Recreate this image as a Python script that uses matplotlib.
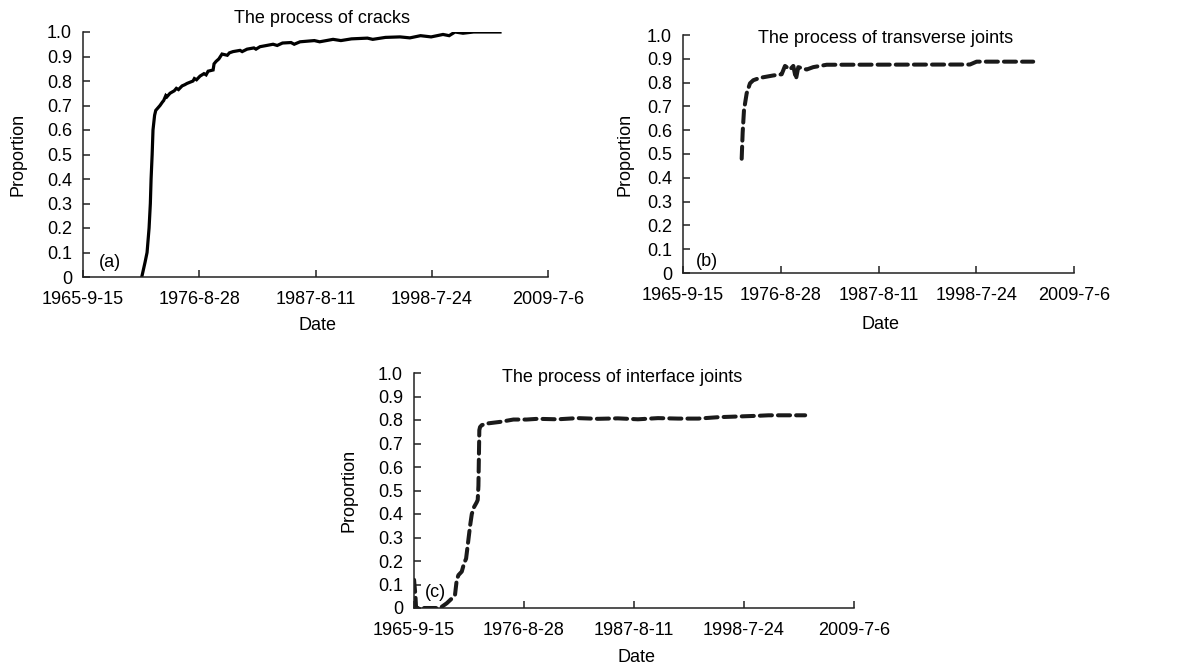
import matplotlib
matplotlib.use("Agg")
import matplotlib.pyplot as plt
import pandas as pd

plt.rcParams['font.family'] = ['Liberation Sans', 'DejaVu Sans']

# ---- data (x in decimal years) ----
a_year = [1971.24, 1971.55, 1971.74, 1971.93, 1972.05, 1972.12, 1972.22, 1972.30, 1972.45,
          1972.56, 1972.96, 1973.2, 1973.3, 1973.5, 1973.6, 1973.9, 1974.1, 1974.3, 1974.5,
          1974.7, 1975.04, 1975.3, 1975.5, 1976.07, 1976.2, 1976.4, 1976.73, 1977.1, 1977.3,
          1977.49, 1977.96, 1978.05, 1978.24, 1978.5, 1978.8, 1979.3, 1979.5, 1979.84, 1980.5,
          1980.7, 1981.16, 1981.8, 1982.0, 1982.38, 1983.0, 1983.61, 1984.0, 1984.5, 1985.3,
          1985.6, 1986.15, 1987.5, 1988.0, 1989.26, 1990.0, 1991.0, 1992.5, 1993.0, 1994.2,
          1995.57, 1996.5, 1997.5, 1998.5, 1999.62, 2000.2, 2000.75, 2001.5, 2002.5, 2004.99]
a_val = [0.0, 0.06, 0.10, 0.20, 0.30, 0.40, 0.50, 0.60, 0.66,
         0.68, 0.70, 0.715, 0.72, 0.74, 0.735, 0.75, 0.755, 0.76, 0.77,
         0.765, 0.78, 0.785, 0.79, 0.80, 0.81, 0.805, 0.82, 0.83, 0.825,
         0.84, 0.845, 0.87, 0.88, 0.89, 0.91, 0.905, 0.915, 0.92, 0.925,
         0.92, 0.93, 0.935, 0.93, 0.94, 0.945, 0.95, 0.945, 0.955, 0.957,
         0.95, 0.96, 0.965, 0.96, 0.97, 0.965, 0.972, 0.975, 0.97, 0.978,
         0.98, 0.976, 0.985, 0.98, 0.99, 0.985, 1.0, 0.995, 1.0, 1.0]

b_year = [1972.28, 1972.39, 1972.54, 1972.84, 1973.21, 1973.58, 1974.33, 1975.82, 1976.76,
          1977.13, 1977.69, 1978.06, 1978.36, 1978.62, 1979.56, 1980.3, 1981.8, 1997.85,
          1998.6, 2004.94]
b_val = [0.48, 0.59, 0.685, 0.755, 0.797, 0.81, 0.82, 0.83, 0.835,
         0.87, 0.855, 0.87, 0.815, 0.865, 0.855, 0.865, 0.875, 0.876,
         0.888, 0.888]

c_year = [1965.71, 1965.85, 1965.91, 1966.5, 1967.5, 1968.30, 1968.96, 1969.46, 1969.79,
          1969.96, 1970.13, 1970.46, 1970.69, 1970.89, 1971.12, 1971.29, 1971.46, 1971.69,
          1971.95, 1972.05, 1972.12, 1972.21, 1972.28, 1972.45, 1972.95, 1974.28, 1975.6,
          1976.93, 1978.0, 1980.0, 1982.0, 1984.0, 1986.0, 1988.0, 1990.0, 1992.0, 1994.0,
          1996.0, 1998.0, 2000.0, 2001.0, 2004.65]
c_val = [0.12, 0.05, 0.0, 0.0, 0.0, 0.0, 0.02, 0.04, 0.057,
         0.12, 0.14, 0.155, 0.19, 0.21, 0.29, 0.35, 0.40, 0.43,
         0.45, 0.46, 0.52, 0.757, 0.77, 0.778, 0.785, 0.792, 0.802,
         0.802, 0.805, 0.803, 0.808, 0.805, 0.807, 0.803, 0.808, 0.806, 0.806,
         0.812, 0.815, 0.818, 0.82, 0.82]

x_tick_labels = ["1965-9-15", "1976-8-28", "1987-8-11", "1998-7-24", "2009-7-6"]
y_ticks = [0, 0.1, 0.2, 0.3, 0.4, 0.5, 0.6, 0.7, 0.8, 0.9, 1.0]
y_tick_labels = ["0", "0.1", "0.2", "0.3", "0.4", "0.5", "0.6", "0.7", "0.8", "0.9", "1.0"]

titles = ["The process of cracks", "The process of transverse joints",
          "The process of interface joints"]
panel_tags = ["(a)", "(b)", "(c)"]


def to_dates(years):
    out = []
    for y in years:
        yi = int(y)
        out.append(pd.Timestamp(year=yi, month=1, day=1) + pd.Timedelta(days=(y - yi) * 365.25))
    return out


x_ticks = pd.to_datetime(x_tick_labels, format="%Y-%m-%d")

fig = plt.figure(figsize=(11.84, 6.66), dpi=100)
W, H = 1184, 666
# pixel boxes: left, right, top(y=1), bottom(y=0)
boxes = [(83, 548, 32, 277), (683, 1074, 35, 273), (414, 854, 373, 608)]
title_pos = [(0.514, 1.057), (0.517, 0.987), (0.473, 0.979)]
tag_pos = [(0.058, 0.061), (0.061, 0.05), (0.048, 0.064)]
xlabel_y = [-0.196, -0.218, -0.209]
ylabel_x = [-0.14, -0.148, -0.148]
series = [(a_year, a_val, '-'), (b_year, b_val, '--'), (c_year, c_val, '--')]

FS = 13
for i, (l, r, t, b) in enumerate(boxes):
    ax = fig.add_axes([l / W, (H - b) / H, (r - l) / W, (b - t) / H])
    yrs, vals, ls = series[i]
    if ls == '-':
        ax.plot(to_dates(yrs), vals, color='black', lw=2.3, solid_joinstyle='miter')
    else:
        ax.plot(to_dates(yrs), vals, color='#1a1a1a', lw=2.9, linestyle=(0, (3.0, 1.5)),
                dash_capstyle='round')
    ax.set_xlim(x_ticks[0], x_ticks[-1])
    ax.set_ylim(0, 1.0)
    ax.set_xticks(x_ticks)
    ax.set_xticklabels(x_tick_labels, fontsize=FS)
    ax.set_yticks(y_ticks)
    ax.set_yticklabels(y_tick_labels, fontsize=FS)
    ax.tick_params(axis='both', direction='in', length=5, width=1.1, color='#222222')
    ax.tick_params(axis='x', pad=10)
    ax.tick_params(axis='y', pad=8)
    ax.spines['top'].set_visible(False)
    ax.spines['right'].set_visible(False)
    for s in ('left', 'bottom'):
        ax.spines[s].set_linewidth(1.1)
        ax.spines[s].set_color('#222222')
    ax.set_ylabel("Proportion", fontsize=FS)
    ax.yaxis.label.set_va('center')
    ax.yaxis.set_label_coords(ylabel_x[i], 0.5)
    ax.set_xlabel("Date", fontsize=FS)
    ax.xaxis.label.set_va('center')
    ax.xaxis.set_label_coords(0.505, xlabel_y[i])
    ax.text(title_pos[i][0], title_pos[i][1], titles[i], transform=ax.transAxes,
            ha='center', va='center', fontsize=FS, clip_on=False)
    ax.text(tag_pos[i][0], tag_pos[i][1], panel_tags[i], transform=ax.transAxes,
            ha='center', va='center', fontsize=FS)
    ax.patch.set_alpha(0)

fig.savefig("out.png", dpi=100)
